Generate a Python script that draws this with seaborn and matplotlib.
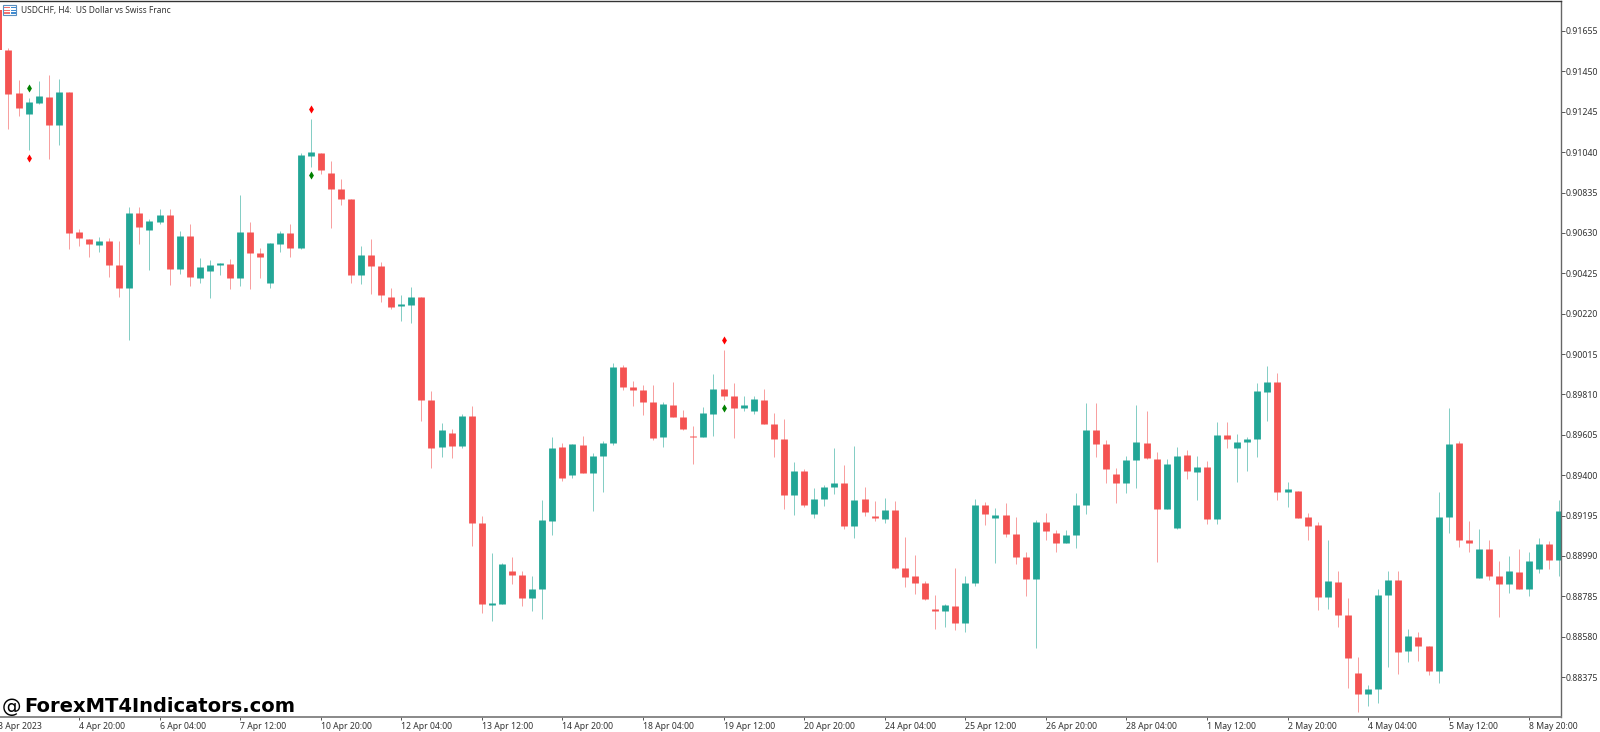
import numpy as np
import pandas as pd
import matplotlib
matplotlib.use('Agg')
import matplotlib.pyplot as plt
from matplotlib.patches import Rectangle
import seaborn as sns

# USDCHF H4 prices, in points (0.00001)
opens = [91761,91558,91340,91233,91289,91320,91177,91345,90634,90599,
         90568,90588,90466,90350,90731,90644,90685,90720,90446,90614,
         90401,90436,90466,90472,90401,90634,90527,90375,90573,90629,
         90553,91020,91035,90934,90852,90802,90416,90517,90461,90304,
         90258,90263,90304,89781,89542,89613,89547,89700,89157,88740,
         88745,88913,88892,88776,88821,89167,89542,89400,89553,89410,
         89497,89563,89949,89847,89832,89771,89593,89756,89695,89598,
         89593,89710,89837,89801,89740,89725,89781,89659,89583,89299,
         89421,89202,89278,89339,89360,89141,89278,89192,89177,89223,
         88928,88887,88852,88720,88710,88735,88649,88852,89248,89182,
         89197,89101,88984,88872,89162,89106,89055,89096,89248,89629,
         89558,89405,89360,89476,89563,89481,89228,89131,89502,89415,
         89441,89177,89603,89537,89568,89583,89822,89872,89314,89319,
         89187,89146,88781,88857,88689,88395,88288,88314,88791,88867,
         88507,88578,88532,88405,89187,89563,89070,88877,89025,88887,
         88847,88908,88821,88923,89050,88969]
highs = [91761,91568,91406,91314,91401,91431,91411,91345,90649,90599,
         90609,90604,90588,90761,90761,90700,90751,90751,90639,90675,
         90502,90492,90477,90497,90822,90685,90553,90578,90639,90675,
         91035,91208,91035,90995,90903,90802,90563,90599,90482,90350,
         90314,90355,90304,89827,89664,89634,89710,89751,89192,89004,
         88953,88984,88913,88887,89273,89593,89563,89558,89598,89512,
         89573,89969,89959,89878,89857,89857,89771,89872,89730,89649,
         89746,89913,90035,89867,89801,89801,89837,89715,89685,89466,
         89431,89334,89349,89537,89451,89547,89339,89268,89283,89268,
         89085,88994,88862,88791,88745,88928,88887,89278,89263,89233,
         89258,89187,89009,89172,89207,89121,89121,89309,89766,89766,
         89578,89436,89497,89756,89725,89517,89481,89542,89527,89497,
         89471,89669,89669,89608,89593,89867,89954,89918,89365,89319,
         89207,89162,89070,88913,88776,88476,88334,88821,88913,88913,
         88618,88603,88532,89314,89740,89573,89167,89126,89070,88964,
         88989,89025,89009,89080,89065,89273]
lows = [91558,91157,91223,91050,91284,91005,91076,90548,90563,90507,
        90532,90406,90304,90086,90573,90441,90675,90365,90421,90360,
        90375,90299,90416,90345,90360,90345,90401,90350,90532,90507,
        90548,90964,90929,90654,90771,90375,90370,90319,90279,90243,
        90182,90172,89674,89436,89492,89487,89537,89040,88700,88659,
        88745,88847,88735,88710,88669,89096,89370,89385,89410,89217,
        89314,89553,89832,89751,89705,89578,89542,89695,89629,89456,
        89593,89598,89781,89588,89725,89710,89659,89492,89228,89197,
        89238,89182,89243,89304,89126,89080,89192,89167,89157,88923,
        88832,88796,88766,88618,88628,88613,88603,88837,89146,88953,
        89085,88948,88786,88522,89070,89009,89055,89030,89202,89492,
        89360,89258,89309,89334,89481,88959,89228,89126,89380,89273,
        89151,89151,89537,89365,89421,89492,89674,89273,89238,89182,
        89070,88715,88720,88628,88319,88197,88227,88243,88425,88390,
        88451,88456,88385,88344,89106,89035,89009,88877,88867,88679,
        88801,88821,88786,88903,88923,88887]
closes = [91558,91335,91264,91294,91325,91177,91345,90629,90604,90573,
          90588,90466,90350,90731,90659,90690,90720,90446,90614,90406,
          90456,90466,90477,90401,90634,90527,90507,90578,90629,90553,
          91025,91040,90949,90852,90802,90416,90517,90461,90314,90253,
          90268,90304,89781,89537,89629,89547,89700,89157,88745,88750,
          88948,88892,88776,88821,89172,89537,89385,89558,89410,89497,
          89563,89949,89847,89832,89771,89588,89761,89695,89634,89593,
          89715,89837,89801,89740,89756,89786,89659,89583,89299,89421,
          89248,89278,89339,89360,89141,89273,89212,89182,89223,88928,
          88882,88852,88771,88710,88740,88649,88852,89248,89202,89197,
          89101,88984,88872,89162,89116,89055,89096,89248,89629,89558,
          89431,89360,89476,89568,89487,89228,89456,89497,89421,89441,
          89177,89603,89583,89568,89583,89827,89872,89314,89329,89182,
          89141,88781,88862,88689,88471,88288,88314,88791,88867,88502,
          88583,88532,88405,89187,89558,89070,89055,89025,88887,88847,
          88913,88821,88964,89050,88969,89217]

# indicator diamonds: bar number and price in points
sell_bars = [3, 31, 72]
sell_prices = [91009, 91260, 90084]
buy_bars = [3, 31, 72]
buy_prices = [91365, 90922, 89740]

price_ticks = [0.91655, 0.91450, 0.91245, 0.91040, 0.90835, 0.90630, 0.90425, 0.90220, 0.90015,
               0.89810, 0.89605, 0.89400, 0.89195, 0.88990, 0.88785, 0.88580, 0.88375]
time_ticks = list(range(0, 153, 8))
time_labels = ['3 Apr 2023', '4 Apr 20:00', '6 Apr 04:00', '7 Apr 12:00', '10 Apr 20:00', '12 Apr 04:00',
               '13 Apr 12:00', '14 Apr 20:00', '18 Apr 04:00', '19 Apr 12:00', '20 Apr 20:00',
               '24 Apr 04:00', '25 Apr 12:00', '26 Apr 20:00', '28 Apr 04:00', '1 May 12:00',
               '2 May 20:00', '4 May 04:00', '5 May 12:00', '8 May 20:00']

UP = '#22a696'
DOWN = '#f45352'
W, H = 1600, 732

sns.set_theme(style='white')
plt.rcParams['font.family'] = ['Noto Sans', 'DejaVu Sans']
plt.rcParams['lines.solid_capstyle'] = 'butt'

df = pd.DataFrame({'bar': np.arange(len(opens)), 'open': opens, 'high': highs,
                   'low': lows, 'close': closes})
df[['open', 'high', 'low', 'close']] = df[['open', 'high', 'low', 'close']] / 1e5
df['side'] = np.where(df['close'] >= df['open'], 'up', 'down')
wicks = df.melt(id_vars=['bar', 'side'], value_vars=['high', 'low'], value_name='price')
bodies = df.melt(id_vars=['bar', 'side'], value_vars=['open', 'close'], value_name='price')

fig = plt.figure(figsize=(W / 100, H / 100), dpi=100)
# axes start just left of the canvas so the first candle is half cut off like the reference
ax = fig.add_axes([-10 / W, 1 - 716.7 / H, 1570.5 / W, 715.7 / H])
pal = {'up': UP, 'down': DOWN}

sns.lineplot(data=wicks, x='bar', y='price', hue='side', units='bar', estimator=None,
             palette=pal, linewidth=0.72, alpha=0.55, legend=False, ax=ax)
sns.lineplot(data=bodies, x='bar', y='price', hue='side', units='bar', estimator=None,
             palette=pal, linewidth=4.9, legend=False, ax=ax)
# agg drops a line whose centre is off the canvas, so the first body has to be a filled bar
first = df.iloc[0]
ax.bar(first['bar'], first['close'] - first['open'], bottom=first['open'], width=0.7,
       color=pal[first['side']], linewidth=0)
sns.scatterplot(x=sell_bars, y=np.array(sell_prices) / 1e5, marker='d', s=17, color='#ff0000',
                linewidth=0, ax=ax)
sns.scatterplot(x=buy_bars, y=np.array(buy_prices) / 1e5, marker='d', s=17, color='#008000',
                linewidth=0, ax=ax)

ax.set_xlim(-0.834, 155.1)
ax.set_ylim(0.881735, 0.918073)
ax.set_xlabel('')
ax.set_ylabel('')
ax.yaxis.tick_right()
ax.set_yticks(price_ticks)
ax.set_yticklabels(['%.5f' % p for p in price_ticks])
ax.set_xticks(time_ticks)
ax.set_xticklabels(time_labels, ha='left')
ax.tick_params(axis='y', right=True, length=3, width=0.7, pad=1, labelsize=6.3,
               color='#555555', labelcolor='#333333')
ax.tick_params(axis='x', bottom=True, length=2.5, width=0.7, pad=1, labelsize=6.25,
               color='#555555', labelcolor='#333333')

ax.spines['left'].set_visible(False)
for s, c, lw in [('top', '#333333', 1.0), ('right', '#666666', 1.0), ('bottom', '#808080', 1.3)]:
    ax.spines[s].set_color(c)
    ax.spines[s].set_linewidth(lw)

fig.text(21 / W, 1 - 11 / H, 'USDCHF, H4:  US Dollar vs Swiss Franc', fontsize=6.05,
         color='#333333', ha='left', va='center')
fig.text(2 / W, 1 - 707 / H, '@', fontsize=14, family='DejaVu Sans', color='black',
         ha='left', va='center')
fig.text(24 / W, 1 - 707 / H, 'ForexMT4Indicators.com', fontsize=14.05, fontweight='bold',
         family='DejaVu Sans', color='black', ha='left', va='center')

# little chart window icon
def px_rect(x, y, w, h, **kw):
    fig.add_artist(Rectangle((x / W, 1 - (y + h) / H), w / W, h / H, transform=fig.transFigure, **kw))

px_rect(3, 5, 13, 10, facecolor='white', edgecolor='#5b8fbf', linewidth=0.8)
for yy in (7, 9.7, 12.3):
    px_rect(4, yy, 5.5, 1.3, facecolor='#f07070', edgecolor='none')
    px_rect(10.5, yy, 5, 1.3, facecolor='#3f8ad0', edgecolor='none')

fig.savefig('out.png', dpi=100, facecolor='white')
